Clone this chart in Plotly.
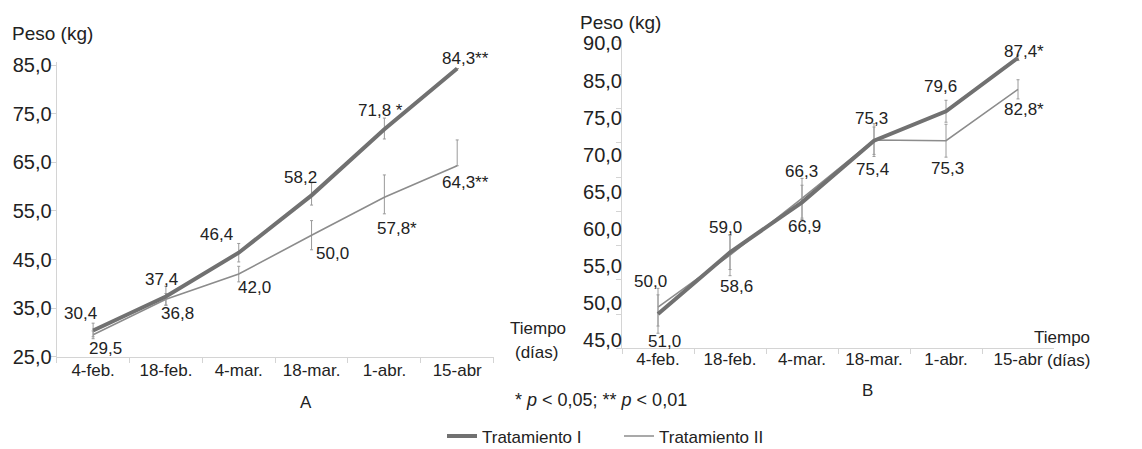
import numpy as np
import plotly.graph_objects as go

# ---------------- data ----------------
categories = ["4-feb.", "18-feb.", "4-mar.", "18-mar.", "1-abr.", "15-abr"]

# Panel A
a_trat1 = [30.4, 37.4, 46.4, 58.2, 71.8, 84.3]
a_trat2 = [29.5, 36.8, 42.0, 50.0, 57.8, 64.3]
a_err1_plus = [1.5, 2.1, 1.9, 2.6, 2.3, 0.0]
a_err1_minus = [1.3, 1.8, 1.9, 2.0, 2.0, 0.0]
a_err2_plus = [0.8, 1.2, 1.6, 3.0, 4.6, 5.3]
a_err2_minus = [0.8, 1.2, 1.6, 3.0, 3.4, 0.0]
a_labels1 = ["30,4", "37,4", "46,4", "58,2", "71,8 *", "84,3**"]
a_labels2 = ["29,5", "36,8", "42,0", "50,0", "57,8*", "64,3**"]
a_ytick_vals = [25, 35, 45, 55, 65, 75, 85]
a_ytick_text = ["25,0", "35,0", "45,0", "55,0", "65,0", "75,0", "85,0"]

# Panel B
b_trat1 = [50.0, 59.0, 66.3, 75.3, 79.6, 87.4]
b_trat2 = [51.0, 58.6, 66.9, 75.4, 75.3, 82.8]
b_err1 = [2.8, 2.5, 2.5, 2.0, 1.6, 0.4]
b_err2 = [2.75, 3.0, 2.9, 2.4, 2.4, 1.4]
b_labels1 = ["50,0", "59,0", "66,3", "75,3", "79,6", "87,4*"]
b_labels2 = ["51,0", "58,6", "66,9", "75,4", "75,3", "82,8*"]
b_ytick_text = ["90,0", "85,0", "75,0", "70,0", "65,0", "60,0", "55,0", "50,0", "45,0"]

series_names = ["Tratamiento I", "Tratamiento II"]

# ---------------- styles ----------------
FONT = "Liberation Sans, Arial, sans-serif"
TXT = "#222222"
AXC = "#d4d4d4"
C1 = "#717171"
C2 = "#8c8c8c"
ERRC = "#9a9a9a"

# label pixel offsets (dx, dy screen px) relative to each point
a_off1 = [(-13, -17), (-4, -17), (-22, -18), (-11, -18), (-4, -19), (8, -10)]
a_off2 = [(12, 14), (12, 14), (16, 13), (21, 18), (13, 31), (8, 17)]
b_off1 = [(-8, -33), (-5, -25), (-1, -31), (-3, -22), (-6, -25), (6, -6)]
b_off2 = [(6, 34), (6, 31), (2, 28), (-2, 29), (1, 28), (6, 20)]

fig = go.Figure()

def add_series(x_ax, y_ax, y1, y2, e1p, e1m, e2p, e2m, legend):
    fig.add_trace(go.Scatter(
        x=categories, y=y2, mode="lines", name=series_names[1],
        line=dict(color=C2, width=1.6), xaxis=x_ax, yaxis=y_ax,
        error_y=dict(type="data", array=e2p, arrayminus=e2m, symmetric=False,
                     color=ERRC, thickness=1, width=1.5),
        showlegend=False, legendrank=2))
    fig.add_trace(go.Scatter(
        x=categories, y=y1, mode="lines", name=series_names[0],
        line=dict(color=C1, width=4), xaxis=x_ax, yaxis=y_ax,
        error_y=dict(type="data", array=e1p, arrayminus=e1m, symmetric=False,
                     color=ERRC, thickness=1, width=1.5),
        showlegend=legend, legendrank=1))

add_series("x", "y", a_trat1, a_trat2, a_err1_plus, a_err1_minus,
           a_err2_plus, a_err2_minus, True)
add_series("x2", "y2", b_trat1, b_trat2, b_err1, b_err1, b_err2, b_err2, False)
# legend entry for Tratamiento II
fig.add_trace(go.Scatter(x=[None], y=[None], mode="lines", name=series_names[1],
                         line=dict(color=C2, width=1.6), showlegend=True,
                         legendrank=2))

ann = []
def add_labels(xr, yr, vals, labels, offs):
    for c, v, t, (dx, dy) in zip(categories, vals, labels, offs):
        ann.append(dict(x=c, y=v, xref=xr, yref=yr, text=t, showarrow=False,
                        xshift=dx, yshift=-dy, xanchor="center", yanchor="middle",
                        font=dict(family=FONT, size=17, color=TXT)))

add_labels("x", "y", a_trat1, a_labels1, a_off1)
add_labels("x", "y", a_trat2, a_labels2, a_off2)
add_labels("x2", "y2", b_trat1, b_labels1, b_off1)
add_labels("x2", "y2", b_trat2, b_labels2, b_off2)

W, H = 1142, 449
def px(xp, yp, text, size=17):
    ann.append(dict(x=xp / W, y=1 - yp / H, xref="paper", yref="paper", text=text,
                    showarrow=False, xanchor="center", yanchor="middle",
                    font=dict(family=FONT, size=size, color=TXT)))

px(52, 33, "Peso (kg)", 19)
px(620, 22, "Peso (kg)", 19)
px(538, 328, "Tiempo", 17)
px(536, 352, "(días)", 17)
px(1062, 337, "Tiempo", 17)
px(1068, 360, "(días)", 17)
px(306, 402, "A", 17)
px(867, 390, "B", 17)
px(601, 400, "* <i>p</i> < 0,05; ** <i>p</i> < 0,01", 18)

xcommon = dict(type="category", categoryorder="array", categoryarray=categories,
               range=[-0.5, 5.5], showline=True, linecolor=AXC, linewidth=1,
               ticks="outside", tickson="boundaries", ticklen=5, tickcolor=AXC,
               showgrid=False, zeroline=False,
               tickfont=dict(family=FONT, size=17, color=TXT))
ycommon = dict(showline=True, linecolor=AXC, linewidth=1, showgrid=False,
               zeroline=False, ticklabelstandoff=-5,
               tickfont=dict(family=FONT, size=20, color=TXT))

b_label_pos = np.linspace(89.5, 46.2, len(b_ytick_text))

fig.update_layout(
    width=W, height=H, margin=dict(l=0, r=0, t=0, b=0, autoexpand=False),
    paper_bgcolor="white", plot_bgcolor="white",
    font=dict(family=FONT, color=TXT),
    xaxis=dict(domain=[0.04965, 0.43222], anchor="y", ticklabelstandoff=-2,
               **xcommon),
    yaxis=dict(domain=[0.20557, 0.86236], anchor="x", range=[25, 85.68],
               tickmode="array", tickvals=a_ytick_vals, ticktext=a_ytick_text,
               ticks="outside", ticklen=5, tickcolor=AXC, **ycommon),
    xaxis2=dict(domain=[0.54466, 0.92294], anchor="y2", ticklabelstandoff=-5,
                **xcommon),
    yaxis2=dict(domain=[0.22428, 0.91091], anchor="x2", range=[45, 90],
                tickmode="array", tickvals=list(b_label_pos), ticktext=b_ytick_text,
                ticks="",
                minor=dict(tickmode="linear", tick0=45, dtick=5, ticks="outside",
                           ticklen=5, tickcolor=AXC, showgrid=False),
                **ycommon),
    legend=dict(orientation="h", x=442 / W, y=-0.012, xanchor="left",
                yanchor="bottom", entrywidth=132, entrywidthmode="pixels",
                font=dict(family=FONT, size=17, color=TXT),
                bgcolor="rgba(0,0,0,0)"),
    annotations=ann,
)

fig.write_html("out.html",
               config={"displayModeBar": False},
               post_script="document.body.style.margin='0';"
                           "document.body.style.overflow='hidden';")
